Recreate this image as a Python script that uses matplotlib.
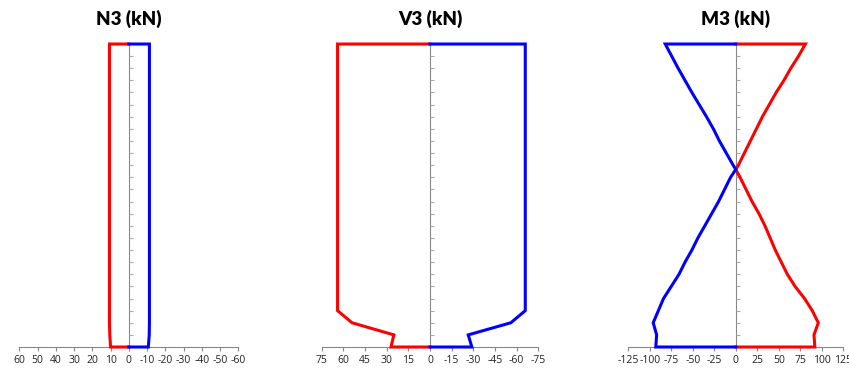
import matplotlib
matplotlib.use("Agg")
import matplotlib.pyplot as plt

# stations along the member (axis tick units, 0 = bottom, 25 = top)
n3_h = [0, 1, 2, 25]
n3_max = [10.0, 10.4, 10.6, 10.6]
n3_min = [-10.7, -11.2, -11.3, -11.3]

v3_h = [0, 1, 2, 3, 25]
v3_max = [27, 25, 54, 64, 64]
v3_min = [-29, -26.5, -56, -66, -66]

m3_h = [0, 1, 2, 3, 4, 5, 6, 7, 8, 9, 10, 11, 12, 13, 14, 14.65,
        15, 16, 17, 18, 19, 20, 21, 22, 23, 24, 25]
m3_max = [92, 91, 96, 89, 80, 69, 60, 53, 46, 40, 34, 27, 19, 12, 5, 0,
          3, 10, 17, 24, 31, 39, 47, 56, 64, 73, 81]
m3_min = [-93, -92, -96, -90, -84, -75, -66, -59, -51, -44, -36, -28, -20, -13, -6, 0,
          -3, -11, -19, -26, -34, -42.5, -51, -59, -67, -74.5, -82]

titles = ["N3 (kN)", "V3 (kN)", "M3 (kN)"]
xticks = [list(range(60, -61, -10)), list(range(75, -76, -15)), list(range(-125, 126, 25))]
xlims = [(60, -60), (75, -75), (-125, 125)]

panels = [(n3_h, n3_max, n3_min), (v3_h, v3_max, v3_min), (m3_h, m3_max, m3_min)]
lefts = [0.0227, 0.3789, 0.7400]
widths = [0.2580, 0.2551, 0.2532]

GRAY = "#888888"

fig = plt.figure(figsize=(8.49, 3.69), dpi=100)

for i in range(3):
    ax = fig.add_axes([lefts[i], 0.0596, widths[i], 0.8211])
    h, vmax, vmin = panels[i]
    top = h[-1]
    for vals, col in ((vmax, "#ff0000"), (vmin, "#0000ff")):
        xs = [0] + list(vals) + [0]
        ys = [h[0]] + list(h) + [top]
        ax.plot(xs, ys, color=col, lw=2.2, clip_on=False, zorder=3,
                solid_joinstyle="miter")
    ax.set_xlim(*xlims[i])
    ax.set_ylim(0, 25)
    ax.set_xticks(xticks[i])
    ax.set_xticklabels([str(t) for t in xticks[i]], fontsize=7.5,
                       family="Open Sans", color="#222222")
    ax.set_yticks(range(0, 26))
    ax.set_yticklabels([])
    for s in ("top", "right"):
        ax.spines[s].set_visible(False)
    ax.spines["left"].set_position(("data", 0))
    ax.spines["left"].set_color(GRAY)
    ax.spines["bottom"].set_color(GRAY)
    ax.spines["left"].set_zorder(1)
    ax.tick_params(axis="y", direction="in", length=3, color="#aaaaaa", width=0.8)
    ax.tick_params(axis="x", direction="out", length=3, color=GRAY, width=0.8, pad=3)
    ax.set_title(titles[i], fontsize=13.5, fontweight="heavy", family="Lato", pad=14)
    ax.patch.set_alpha(0)

fig.savefig("out.png", dpi=100)
